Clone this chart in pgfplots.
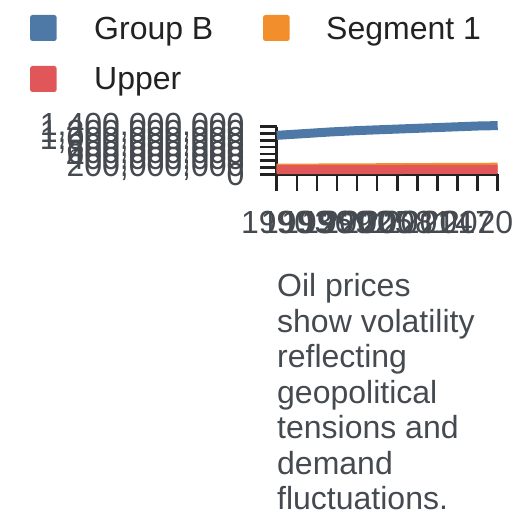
\documentclass[border=0pt]{standalone}
\usepackage{pgfplots}
\pgfplotsset{compat=1.18}
\usepackage{fontspec}
\setmainfont{Liberation Sans}
\definecolor{cB}{HTML}{4E79A7}
\definecolor{cO}{HTML}{F28E2B}
\definecolor{cR}{HTML}{E15759}
\definecolor{txt}{HTML}{454A50}
\definecolor{legtxt}{HTML}{222222}
\definecolor{ax}{HTML}{222222}
\begin{document}
\begin{tikzpicture}[x=1bp,y=1bp]
\useasboundingbox (0,0) rectangle (528,528);
\begin{axis}[
  at={(276.7bp,353.7bp)}, anchor=south west,
  scale only axis, width=221bp, height=47.6bp,
  xmin=1990, xmax=2023, ymin=0, ymax=1400,
  axis lines=left, axis line style={-, ax, line width=2.5bp},
  clip=false,
  tick align=outside, major tick length=17bp,
  every tick/.style={ax, line width=2.5bp},
  xtick={1990,1993,1996,1999,2002,2005,2008,2011,2014,2017,2020,2023},
  xticklabels={1990,1993,1996,1999,2002,2005,2008,2011,2014,2017,2020,{}},
  ytick={0,200,400,600,800,1000,1200,1400},
  yticklabels={0,{200,000,000},{400,000,000},{600,000,000},{800,000,000},{1,000,000,000},{1,200,000,000},{1,400,000,000}},
  tick label style={font=\fontsize{32bp}{36bp}\selectfont, text=txt, inner sep=0pt},
  yticklabel style={anchor=east, xshift=-15bp},
  xticklabel style={anchor=north, yshift=-20bp},
]
\addplot[cB, line width=9bp, line join=round] coordinates {
(1990,1145) (1992,1170) (1994,1195) (1996,1220) (1998,1245) (2000,1265)
(2002,1285) (2004,1300) (2006,1315) (2008,1330) (2010,1345) (2012,1360)
(2014,1375) (2016,1390) (2018,1405) (2020,1420) (2023,1432)};
\addplot[cO, line width=9bp, line join=round] coordinates {
(1990,180) (2000,188) (2010,197) (2023,208)};
\addplot[cR, line width=9bp, line join=round] coordinates {
(1990,140) (2000,140) (2010,141) (2023,142)};
\end{axis}
% legend
\fill[cB, rounded corners=2.5bp] (30,487) rectangle (56.7,513);
\node[anchor=base west, inner sep=0pt, text=legtxt, font=\fontsize{32bp}{36bp}\selectfont] at (94,488) {Group B};
\fill[cO, rounded corners=2.5bp] (263,487) rectangle (289.7,513);
\node[anchor=base west, inner sep=0pt, text=legtxt, font=\fontsize{32bp}{36bp}\selectfont] at (326,488) {Segment 1};
\fill[cR, rounded corners=2.5bp] (30,436) rectangle (56.7,462);
\node[anchor=base west, inner sep=0pt, text=legtxt, font=\fontsize{32bp}{36bp}\selectfont] at (94,438) {Upper};
% annotation
\foreach \t [count=\i from 0] in {Oil prices,show volatility,reflecting,geopolitical,tensions and,demand,fluctuations.}{
  \node[anchor=base west, inner sep=0pt, text=txt, font=\fontsize{32bp}{36bp}\selectfont] at (277,231.3-35.5*\i) {\t};
}
\end{tikzpicture}
\end{document}
